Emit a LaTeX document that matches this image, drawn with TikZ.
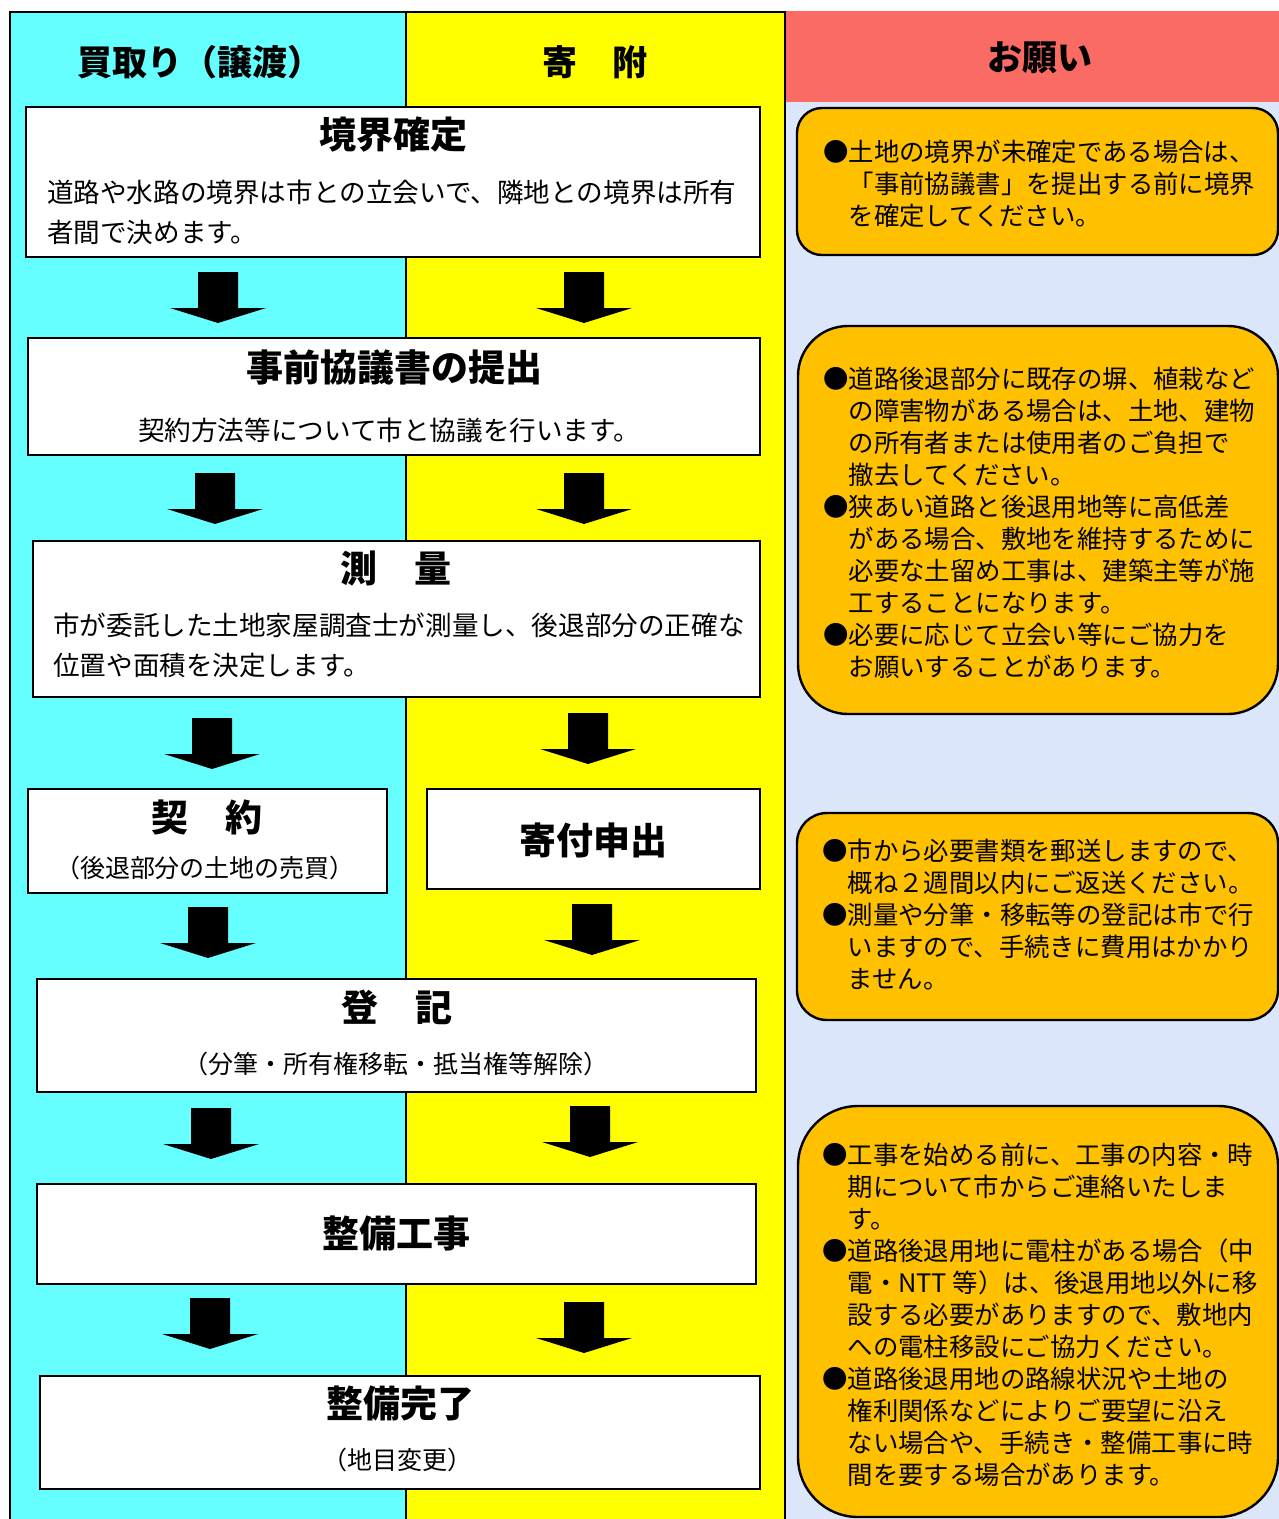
\documentclass[tikz,border=0pt]{standalone}
\usepackage{fontspec}
\setmainfont{Noto Sans CJK JP}
\definecolor{cyanbg}{HTML}{66FFFF}
\definecolor{yellowbg}{HTML}{FFFF00}
\definecolor{redhead}{HTML}{FA6B64}
\definecolor{panelbg}{HTML}{DCE6FA}
\definecolor{notefill}{HTML}{FFC000}
\begin{document}
\begin{tikzpicture}[x=1pt,y=-1pt,
  head/.style={inner sep=0pt, font=\fontsize{35}{40}\selectfont\bfseries},
  stepbox/.style={draw=black, fill=white, line width=1.8pt, inner sep=0pt},
  steptitle/.style={inner sep=0pt, font=\fontsize{37}{42}\selectfont\bfseries},
  stepbody/.style={inner sep=0pt, align=left, font=\fontsize{26.6}{39.5}\selectfont},
  stepnote/.style={inner sep=0pt, font=\fontsize{25}{30}\selectfont},
  notebox/.style={draw=black, fill=notefill, line width=2.4pt, inner sep=0pt},
  notetext/.style={inner sep=0pt, align=left, anchor=north west, font=\fontsize{25.4}{32}\selectfont},
  downarr/.pic={\fill[black] (-20,0) -- (20,0) -- (20,36) -- (48,36) -- (0,51) -- (-48,36) -- (-20,36) -- cycle;}
]
\useasboundingbox (0,0) rectangle (1279,1519);
\fill[white] (0,0) rectangle (1279,1519);
% columns
\fill[cyanbg] (10,12) rectangle (406,1519);
\fill[yellowbg] (406,12) rectangle (785,1519);
\fill[panelbg] (785,102) rectangle (1279,1519);
\fill[redhead] (785,11) rectangle (1279,102);
\draw[line width=2pt] (10,1519) -- (10,12) -- (785,12) -- (785,1519);
\draw[line width=2pt] (406,12) -- (406,1519);
% headers
\node[head] (h1) at (200,62) {買取り（譲渡）};
\node[head] (h2) at (595,62) {寄　附};
\node[head] (h3) at (1040,58) {お願い};
% step boxes
\node[stepbox, minimum width=734pt, minimum height=150pt] (s1) at (393,182) {};
\node[steptitle] (t1) at (393,135) {境界確定};
\node[stepbody, anchor=north west] (d1) at (47,180) {道路や水路の境界は市との立会いで、隣地との境界は所有\\者間で決めます。};

\node[stepbox, minimum width=732pt, minimum height=117pt] (s2) at (394,396.5) {};
\node[steptitle] (t2) at (394,367) {事前協議書の提出};
\node[stepbody] (d2) at (389,430) {契約方法等について市と協議を行います。};

\node[stepbox, minimum width=727pt, minimum height=156pt] (s3) at (396.5,619) {};
\node[steptitle] (t3) at (396,569) {測　量};
\node[stepbody, anchor=north west] (d3) at (53,613) {市が委託した土地家屋調査士が測量し、後退部分の正確な\\位置や面積を決定します。};

\node[stepbox, minimum width=359pt, minimum height=104pt] (s4) at (207.5,841) {};
\node[steptitle] (t4) at (207,817) {契　約};
\node[stepnote] (d4) at (205,868) {（後退部分の土地の売買）};

\node[stepbox, minimum width=333pt, minimum height=100pt] (s5) at (593.5,839) {};
\node[steptitle] (t5) at (593,840) {寄付申出};

\node[stepbox, minimum width=719pt, minimum height=113pt] (s6) at (396.5,1035.5) {};
\node[steptitle] (t6) at (397,1007) {登　記};
\node[stepnote] (d6) at (396,1064) {（分筆・所有権移転・抵当権等解除）};

\node[stepbox, minimum width=719pt, minimum height=100pt] (s7) at (396.5,1234) {};
\node[steptitle] (t7) at (396,1234) {整備工事};

\node[stepbox, minimum width=720pt, minimum height=113pt] (s8) at (400,1432.5) {};
\node[steptitle] (t8) at (400,1404) {整備完了};
\node[stepnote] (d8) at (397,1460) {（地目変更）};

% block arrows
\pic at (218,272) {downarr};  \pic at (584,272) {downarr};
\pic at (215,473) {downarr};  \pic at (584,473) {downarr};
\pic at (212,718) {downarr};  \pic at (588,713) {downarr};
\pic at (208,907) {downarr};  \pic at (592,904) {downarr};
\pic at (211,1108) {downarr}; \pic at (590,1106) {downarr};
\pic at (210,1298) {downarr}; \pic at (584,1302) {downarr};

% notes
\node[notebox, rounded corners=25pt, minimum width=481pt, minimum height=147pt] (n1) at (1037.5,181.5) {};
\node[notetext] (m1) at (823,139.5) {●土地の境界が未確定である場合は、\\\hspace*{1em}「事前協議書」を提出する前に境界\\\hspace*{1em}を確定してください。};

\node[notebox, rounded corners=50pt, minimum width=480pt, minimum height=388pt] (n2) at (1038,520) {};
\node[notetext] (m2) at (823,366.5) {●道路後退部分に既存の塀、植栽など\\\hspace*{1em}の障害物がある場合は、土地、建物\\\hspace*{1em}の所有者または使用者のご負担で\\\hspace*{1em}撤去してください。\\●狭あい道路と後退用地等に高低差\\\hspace*{1em}がある場合、敷地を維持するために\\\hspace*{1em}必要な土留め工事は、建築主等が施\\\hspace*{1em}工することになります。\\●必要に応じて立会い等にご協力を\\\hspace*{1em}お願いすることがあります。};

\node[notebox, rounded corners=30pt, minimum width=481pt, minimum height=207pt] (n3) at (1037.5,916.5) {};
\node[notetext] (m3) at (822,838.5) {●市から必要書類を郵送しますので、\\\hspace*{1em}概ね２週間以内にご返送ください。\\●測量や分筆・移転等の登記は市で行\\\hspace*{1em}いますので、手続きに費用はかかり\\\hspace*{1em}ません。};

\node[notebox, rounded corners=60pt, minimum width=480pt, minimum height=411pt] (n4) at (1038,1311.5) {};
\node[notetext] (m4) at (822,1142.5) {●工事を始める前に、工事の内容・時\\\hspace*{1em}期について市からご連絡いたしま\\\hspace*{1em}す。\\●道路後退用地に電柱がある場合（中\\\hspace*{1em}電・NTT 等）は、後退用地以外に移\\\hspace*{1em}設する必要がありますので、敷地内\\\hspace*{1em}への電柱移設にご協力ください。\\●道路後退用地の路線状況や土地の\\\hspace*{1em}権利関係などによりご要望に沿え\\\hspace*{1em}ない場合や、手続き・整備工事に時\\\hspace*{1em}間を要する場合があります。};
\end{tikzpicture}
\end{document}
